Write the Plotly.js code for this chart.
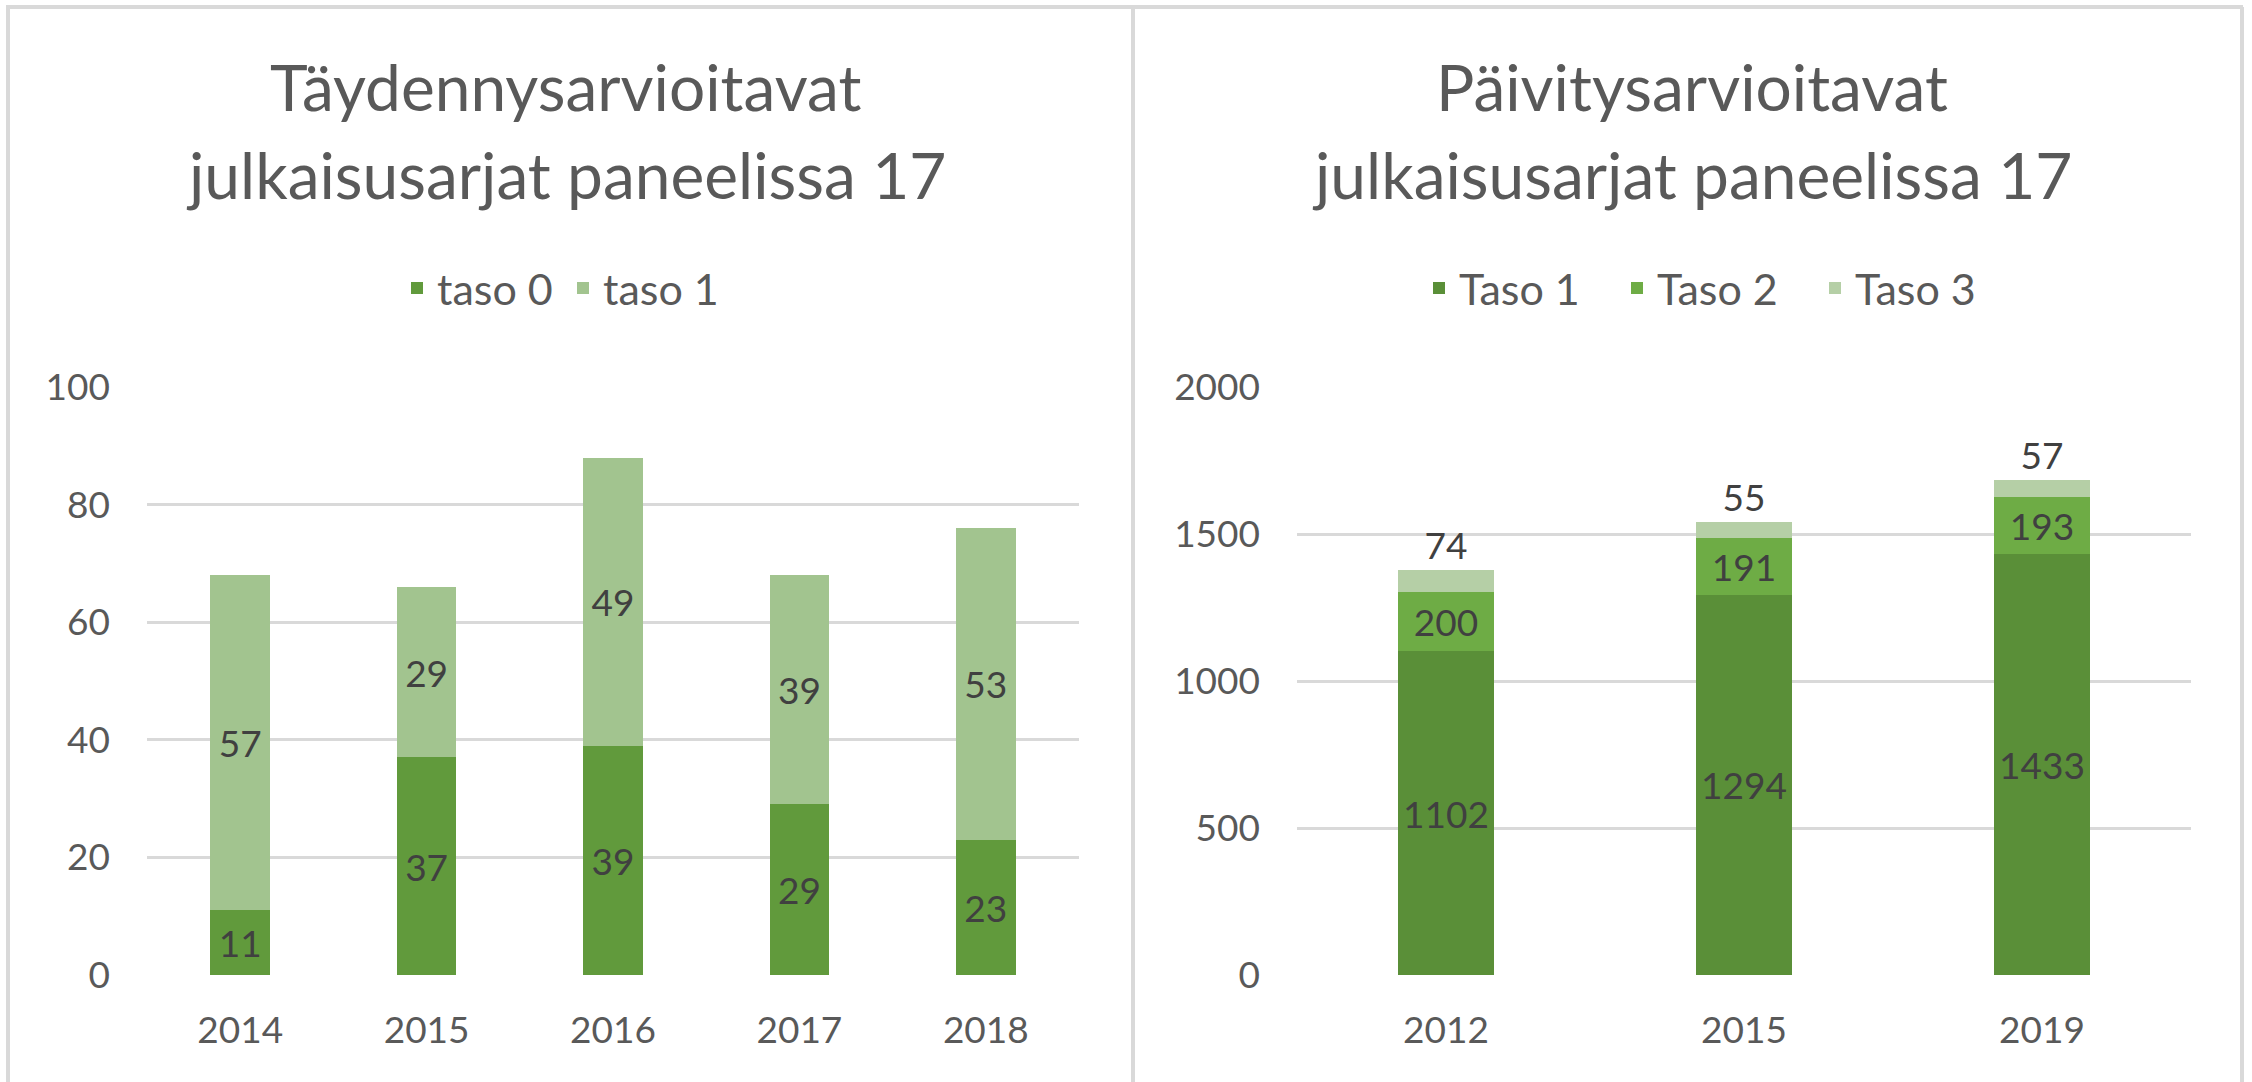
<!DOCTYPE html>
<html>
<head>
<meta charset="utf-8">
<script src="https://cdn.plot.ly/plotly-3.0.1.min.js"></script>
<style>
  html, body { margin: 0; padding: 0; background: #ffffff; }
  #chart { width: 2252px; height: 1082px; }
</style>
</head>
<body>
<div id="chart"></div>
<script>
// ---- data ----
const leftTitle1 = "Täydennysarvioitavat";
const leftTitle2 = "julkaisusarjat paneelissa 17";
const rightTitle1 = "Päivitysarvioitavat";
const rightTitle2 = "julkaisusarjat paneelissa 17";

const leftYears = ["2014", "2015", "2016", "2017", "2018"];
const leftTaso0 = [11, 37, 39, 29, 23];
const leftTaso1 = [57, 29, 49, 39, 53];
const leftNames = ["taso 0", "taso 1"];

const rightYears = ["2012", "2015", "2019"];
const rightTaso1 = [1102, 1294, 1433];
const rightTaso2 = [200, 191, 193];
const rightTaso3 = [74, 55, 57];
const rightNames = ["Taso 1", "Taso 2", "Taso 3"];

// ---- layout helpers ----
const W = 2252, H = 1082;
const px = x => x / W;
const py = y => 1 - y / H;
const FONT = "Lato, 'Open Sans', sans-serif";
const LABEL = "#404040";
const TICK = "#595959";
const GRID = "#D9D9D9";

const dataFont = {family: FONT, size: 37, color: LABEL};

function barTrace(x, y, name, color, xa, ya, legend, pos) {
  return {
    type: "bar", x: x, y: y, name: name,
    xaxis: xa, yaxis: ya, legend: legend,
    marker: {color: color, line: {width: 0}},
    text: y.map(String),
    textposition: pos || "inside",
    insidetextanchor: "middle",
    textangle: 0,
    constraintext: "none",
    textfont: dataFont,
    insidetextfont: dataFont,
    outsidetextfont: dataFont,
    cliponaxis: false,
    hoverinfo: "skip"
  };
}

const traces = [
  barTrace(leftYears, leftTaso0, leftNames[0], "#619A3C", "x", "y", "legend"),
  barTrace(leftYears, leftTaso1, leftNames[1], "#A2C48F", "x", "y", "legend"),
  barTrace(rightYears, rightTaso1, rightNames[0], "#5A8F38", "x2", "y2", "legend2"),
  barTrace(rightYears, rightTaso2, rightNames[1], "#6EAC45", "x2", "y2", "legend2"),
  barTrace(rightYears, rightTaso3, rightNames[2], "#B5CFA6", "x2", "y2", "legend2", "outside")
];

const tickFont = {family: FONT, size: 37, color: TICK};

function xAxis(domain, anchor) {
  return {
    domain: domain, anchor: anchor, type: "category",
    showgrid: false, zeroline: false, showline: false, ticks: "",
    tickfont: tickFont, ticklabelstandoff: 30, fixedrange: true
  };
}
function yAxis(domain, anchor, range, dtick) {
  return {
    domain: domain, anchor: anchor, range: range, dtick: dtick, tick0: 0,
    showgrid: true, gridcolor: GRID, gridwidth: 3,
    zeroline: false, showline: false, ticks: "",
    tickfont: tickFont, ticklabelstandoff: 36, fixedrange: true
  };
}

const yDom = [py(975), py(387)];
const titleFont = {family: FONT, size: 64, color: TICK};
const legendFont = {family: FONT, size: 43, color: TICK};

const layout = {
  width: W, height: H,
  margin: {l: 0, r: 0, t: 0, b: 0, pad: 0},
  paper_bgcolor: "#ffffff", plot_bgcolor: "#ffffff",
  barmode: "stack",
  bargap: 0.68,
  font: {family: FONT, color: TICK},
  xaxis: xAxis([px(147), px(1079)], "y"),
  yaxis: yAxis(yDom, "x", [0, 100], 20),
  xaxis2: xAxis([px(1297), px(2191)], "y2"),
  yaxis2: yAxis(yDom, "x2", [0, 2000], 500),
  legend: {
    orientation: "h", x: px(397), xanchor: "left", y: py(288), yanchor: "middle",
    font: legendFont, traceorder: "normal", entrywidth: 121, entrywidthmode: "pixels",
    bgcolor: "rgba(0,0,0,0)"
  },
  legend2: {
    orientation: "h", x: px(1419), xanchor: "left", y: py(288), yanchor: "middle",
    font: legendFont, traceorder: "normal", entrywidth: 153, entrywidthmode: "pixels",
    bgcolor: "rgba(0,0,0,0)"
  },
  annotations: [
    {text: leftTitle1, x: px(566), y: py(86), xref: "paper", yref: "paper", showarrow: false, xanchor: "center", yanchor: "middle", font: titleFont},
    {text: leftTitle2, x: px(566), y: py(175), xref: "paper", yref: "paper", showarrow: false, xanchor: "center", yanchor: "middle", font: titleFont},
    {text: rightTitle1, x: px(1692), y: py(86), xref: "paper", yref: "paper", showarrow: false, xanchor: "center", yanchor: "middle", font: titleFont},
    {text: rightTitle2, x: px(1692), y: py(175), xref: "paper", yref: "paper", showarrow: false, xanchor: "center", yanchor: "middle", font: titleFont}
  ],
  shapes: [
    {type: "line", xref: "paper", yref: "paper", x0: px(6), x1: px(2243), y0: py(7), y1: py(7), line: {color: GRID, width: 4}},
    {type: "line", xref: "paper", yref: "paper", x0: px(8), x1: px(8), y0: py(7), y1: 0, line: {color: GRID, width: 4}},
    {type: "line", xref: "paper", yref: "paper", x0: px(1133), x1: px(1133), y0: py(7), y1: 0, line: {color: GRID, width: 4}},
    {type: "line", xref: "paper", yref: "paper", x0: px(2242), x1: px(2242), y0: py(7), y1: 0, line: {color: GRID, width: 4}}
  ]
};

Plotly.newPlot("chart", traces, layout, {staticPlot: true, displayModeBar: false});
</script>
</body>
</html>
